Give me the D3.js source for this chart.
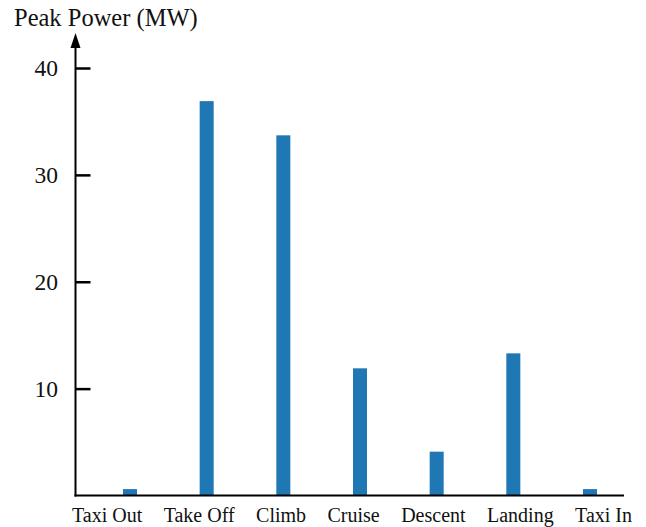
<!DOCTYPE html>
<html>
<head>
<meta charset="utf-8">
<script src="https://cdn.jsdelivr.net/npm/d3@7"></script>
<style>
  body { margin: 0; background: #fff; }
  text { font-family: "Liberation Serif", "Times New Roman", serif; fill: #111; }
</style>
</head>
<body>
<script>
const width = 646;
const height = 527;

// flight phases and peak power (MW)
const phases = ["Taxi Out", "Take Off", "Climb", "Cruise", "Descent", "Landing", "Taxi In"];
const peakPower = [0.6, 36.9, 33.7, 11.9, 4.1, 13.3, 0.6];
const yTicks = [10, 20, 30, 40];

const svg = d3.select("body")
      .append("svg")
      .attr("width", width)
      .attr("height", height);

const x = d3.scalePoint()
      .domain(phases)
      .range([130, 590]);

const y = d3.scaleLinear()
      .domain([0, 40])
      .range([495.5, 68]);

const barW = 14;
const axisX = 75.5;

svg.append("g")
    .attr("fill", "#1f77b4")
    .selectAll("rect")
    .data(phases)
    .enter()
    .append("rect")
    .attr("x", d => x(d) - barW / 2)
    .attr("y", (d, i) => y(peakPower[i]))
    .attr("width", barW)
    .attr("height", (d, i) => y(0) - y(peakPower[i]));

// y axis, ticks pointing inward
const yAxis = svg.append("g")
      .attr("transform", `translate(${axisX},0)`)
      .call(d3.axisRight(y).tickValues(yTicks).tickSize(15).tickFormat(""));
yAxis.select(".domain").remove();
yAxis.selectAll(".tick line").attr("stroke", "#000").attr("stroke-width", 2.5);

svg.append("g")
    .selectAll("text")
    .data(yTicks)
    .enter()
    .append("text")
    .attr("x", 58)
    .attr("y", d => y(d))
    .attr("dy", "0.35em")
    .attr("text-anchor", "end")
    .attr("font-size", 23.5)
    .text(d => d);

svg.append("line")
    .attr("x1", axisX).attr("x2", axisX)
    .attr("y1", y(0) + 1).attr("y2", 42)
    .attr("stroke", "#000")
    .attr("stroke-width", 2);

svg.append("path")
    .attr("d", `M${axisX},33 L${axisX - 5},48 L${axisX + 5},48 Z`)
    .attr("fill", "#000");

// x axis
svg.append("line")
    .attr("x1", axisX - 1).attr("x2", 624)
    .attr("y1", y(0)).attr("y2", y(0))
    .attr("stroke", "#000")
    .attr("stroke-width", 2);

// category labels spread evenly across the bottom, like the original
const labels = svg.append("g")
    .selectAll("text")
    .data(phases)
    .enter()
    .append("text")
    .attr("y", 521.5)
    .attr("font-size", 20)
    .text(d => d);

const widths = labels.nodes().map(n => n.getComputedTextLength());
const left = 72, right = 632;
const gap = (right - left - d3.sum(widths)) / (phases.length - 1);
let cx = left;
labels.attr("x", (d, i) => {
    const pos = cx;
    cx += widths[i] + gap;
    return pos;
});

svg.append("text")
    .attr("x", 14)
    .attr("y", 26)
    .attr("font-size", 24.5)
    .text("Peak Power (MW)");
</script>
</body>
</html>
